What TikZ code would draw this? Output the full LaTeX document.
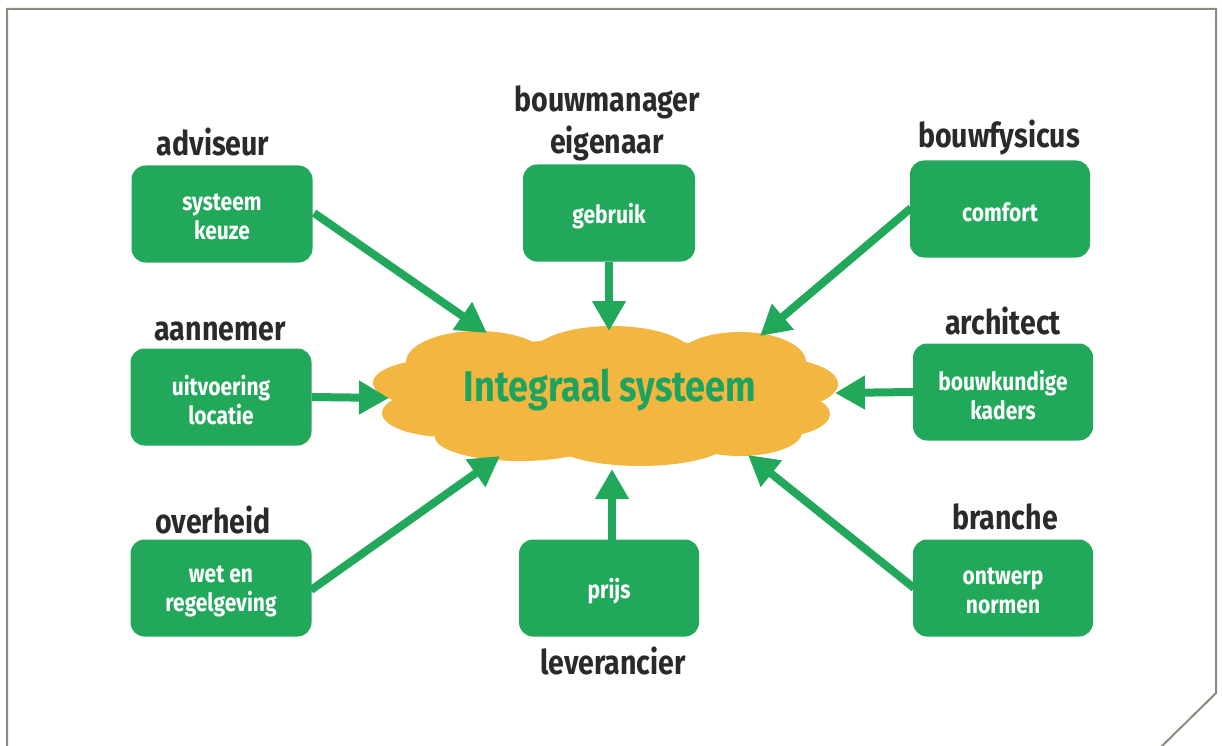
\documentclass[tikz,border=0pt]{standalone}
\usepackage{fontspec}
\setmainfont{Fira Sans}[FakeStretch=0.84]
\usetikzlibrary{arrows.meta}
\definecolor{boxgreen}{HTML}{22A85B}
\definecolor{cloudcol}{HTML}{F3B741}
\definecolor{cloudtext}{HTML}{1EA35E}
\definecolor{labelgray}{HTML}{2A2A2A}
\definecolor{framegray}{HTML}{8F897E}
\tikzset{
  stakebox/.style={fill=boxgreen, rounded corners=14pt, minimum width=181pt, minimum height=97pt, inner sep=0pt},
  boxtext/.style={text=white, font=\bfseries\fontsize{25}{29}\selectfont, align=center, inner sep=0pt, yshift=-3pt},
  rolelabel/.style={text=labelgray, font=\bfseries\fontsize{34}{42}\selectfont, anchor=base, inner sep=0pt},
  flowarrow/.style={draw=boxgreen, line width=8pt, -{Triangle[length=30pt,width=32pt]}},
  cloudpart/.style={fill=cloudcol}
}
\begin{document}
\begin{tikzpicture}[x=1pt,y=-1pt]
\useasboundingbox (0,0) rectangle (1222,746);
\fill[white] (0,0) rectangle (1222,746);
% frame
\draw[framegray, line width=2pt] (7,747) -- (7,9) -- (1216,9) -- (1216,693) -- (1161,747);

% cloud
\fill[cloudpart] (605,396) ellipse [x radius=205pt, y radius=58pt];
\fill[cloudpart] (478,362) ellipse [x radius=72pt, y radius=31pt];
\fill[cloudpart] (612,357) ellipse [x radius=82pt, y radius=31pt];
\fill[cloudpart] (740,362) ellipse [x radius=66pt, y radius=30pt];
\fill[cloudpart] (440,383) ellipse [x radius=67pt, y radius=24pt];
\fill[cloudpart] (448,413) ellipse [x radius=66pt, y radius=24pt];
\fill[cloudpart] (772,384) ellipse [x radius=66pt, y radius=26pt];
\fill[cloudpart] (768,414) ellipse [x radius=62pt, y radius=24pt];
\fill[cloudpart] (520,437) ellipse [x radius=85pt, y radius=24pt];
\fill[cloudpart] (640,440) ellipse [x radius=90pt, y radius=26pt];
\fill[cloudpart] (740,432) ellipse [x radius=62pt, y radius=24pt];
\node[text=cloudtext, font=\bfseries\fontsize{43}{50}\selectfont, inner sep=0pt] (cloud) at (610,390) {Integraal systeem};

% boxes
\node[stakebox] (keuze) at (222,214) {};
\node[stakebox] (uitv) at (221,397) {};
\node[stakebox] (wet) at (221,588) {};
\node[stakebox, minimum width=172pt] (gebr) at (609,213) {};
\node[stakebox, minimum width=180pt] (prijs) at (609,588) {};
\node[stakebox, minimum width=180pt] (comf) at (1000,209) {};
\node[stakebox, minimum width=180pt] (bouwk) at (1003,392) {};
\node[stakebox, minimum width=180pt] (ontw) at (1003,588) {};

\node[boxtext] (keuzeT) at (keuze.center) {systeem\\keuze};
\node[boxtext] (uitvT) at (uitv.center) {uitvoering\\locatie};
\node[boxtext] (wetT) at (wet.center) {wet en\\regelgeving};
\node[boxtext] (gebrT) at (gebr.center) {gebruik};
\node[boxtext] (prijsT) at (prijs.center) {prijs};
\node[boxtext] (comfT) at (comf.center) {comfort};
\node[boxtext] (bouwkT) at (bouwk.center) {bouwkundige\\kaders};
\node[boxtext] (ontwT) at (ontw.center) {ontwerp\\normen};

% role labels
\node[rolelabel] (adv) at (213,156) {adviseur};
\node[rolelabel] (aann) at (220,340) {aannemer};
\node[rolelabel] (overh) at (213,533) {overheid};
\node[rolelabel] (bman) at (607,112) {bouwmanager};
\node[rolelabel] (eig) at (607,154) {eigenaar};
\node[rolelabel] (lev) at (613,674) {leverancier};
\node[rolelabel] (bfys) at (999,148) {bouwfysicus};
\node[rolelabel] (arch) at (1003,334) {architect};
\node[rolelabel] (branche) at (1005,529) {branche};

% arrow targets on cloud edge
\coordinate (tA) at (487,333);
\coordinate (tB) at (389,398);
\coordinate (tC) at (500,456);
\coordinate (tD) at (609,331);
\coordinate (tE) at (612,469);
\coordinate (tF) at (760,336);
\coordinate (tG) at (835,393);
\coordinate (tH) at (748,455);
\coordinate (sA) at (314,213);
\coordinate (sC) at (311,590);
\coordinate (sE) at (612,541);
\coordinate (sF) at (911,208);
\coordinate (sH) at (914,588);

\draw[flowarrow] (sA) -- (tA);
\draw[flowarrow] (uitv.east) -- (tB);
\draw[flowarrow] (sC) -- (tC);
\draw[flowarrow] (gebr.south) -- (tD);
\draw[flowarrow] (sE) -- (tE);
\draw[flowarrow] (sF) -- (tF);
\draw[flowarrow] (bouwk.west) -- (tG);
\draw[flowarrow] (sH) -- (tH);
\end{tikzpicture}
\end{document}
